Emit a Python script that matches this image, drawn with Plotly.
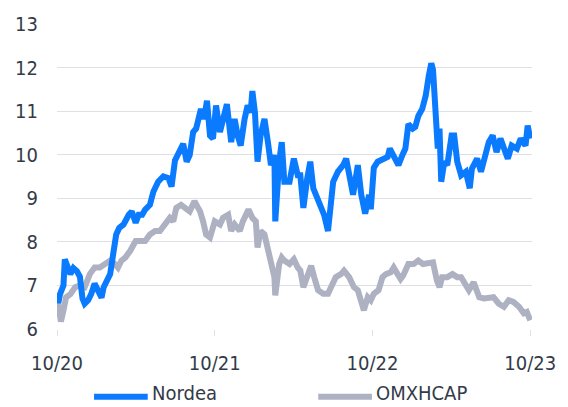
import plotly.graph_objects as go

nordea_dates = ["2020-10-01","2020-10-04","2020-10-08","2020-10-16","2020-10-19","2020-10-23","2020-11-01","2020-11-08","2020-11-16","2020-11-23","2020-11-29","2020-12-04","2020-12-12","2020-12-19","2020-12-27","2021-01-04","2021-01-12","2021-01-17","2021-01-23","2021-02-01","2021-02-08","2021-02-15","2021-02-22","2021-03-04","2021-03-16","2021-03-23","2021-04-01","2021-04-08","2021-04-16","2021-04-23","2021-05-04","2021-05-12","2021-05-23","2021-06-04","2021-06-16","2021-06-23","2021-07-01","2021-07-12","2021-07-20","2021-07-28","2021-08-04","2021-08-12","2021-08-19","2021-08-30","2021-09-06","2021-09-13","2021-09-20","2021-09-27","2021-10-04","2021-10-13","2021-10-20","2021-10-29","2021-11-08","2021-11-16","2021-11-23","2021-11-30","2021-12-09","2021-12-16","2021-12-23","2021-12-27","2022-01-02","2022-01-08","2022-01-15","2022-01-24","2022-02-01","2022-02-08","2022-02-16","2022-02-18","2022-02-27","2022-03-05","2022-03-11","2022-03-23","2022-04-02","2022-04-11","2022-04-17","2022-04-24","2022-05-03","2022-05-10","2022-05-17","2022-05-28","2022-06-05","2022-06-11","2022-06-20","2022-06-25","2022-07-02","2022-07-13","2022-07-25","2022-08-01","2022-08-08","2022-08-17","2022-08-28","2022-09-05","2022-09-14","2022-09-23","2022-09-27","2022-10-04","2022-10-13","2022-10-24","2022-11-05","2022-11-10","2022-11-19","2022-11-30","2022-12-09","2022-12-16","2022-12-23","2023-01-02","2023-01-08","2023-01-15","2023-01-24","2023-02-01","2023-02-08","2023-02-14","2023-02-18","2023-02-25","2023-03-01","2023-03-05","2023-03-09","2023-03-16","2023-03-23","2023-04-02","2023-04-08","2023-04-15","2023-04-24","2023-05-05","2023-05-14","2023-05-19","2023-05-31","2023-06-09","2023-06-18","2023-06-27","2023-07-06","2023-07-15","2023-07-24","2023-08-03","2023-08-10","2023-08-19","2023-08-31","2023-09-09","2023-09-20","2023-09-25","2023-10-01"]
nordea_values = [6.77,6.6,6.8,7.0,7.6,7.5,7.26,7.4,7.33,7.2,6.7,6.58,6.66,6.8,7.04,6.88,6.72,6.96,7.1,7.26,7.72,8.17,8.32,8.4,8.62,8.7,8.44,8.62,8.62,8.74,8.85,9.15,9.38,9.5,9.46,9.27,9.87,10.14,10.25,9.84,9.99,10.52,10.6,11.05,10.82,11.24,10.44,10.37,11.13,10.52,10.75,11.16,10.29,10.82,10.44,10.21,10.82,11.13,10.97,11.46,10.97,9.84,10.44,10.82,10.29,9.76,9.99,8.47,9.84,10.29,9.38,9.38,9.91,9.53,9.53,8.78,9.46,9.84,9.23,8.93,8.7,8.62,8.25,8.85,9.38,9.61,9.76,9.91,9.46,9.08,9.76,9.08,8.65,9.08,8.75,9.7,9.84,9.91,9.95,10.14,9.99,9.76,9.99,10.14,10.7,10.6,10.64,10.89,11.05,11.35,11.8,12.1,11.95,10.82,10.14,10.6,9.38,9.84,9.76,10.44,10.44,9.84,9.53,9.61,9.23,9.68,9.91,9.61,9.91,10.29,10.44,10.06,10.37,10.14,9.91,10.21,10.14,10.37,10.21,10.67,10.37]

omx_dates = ["2020-10-01","2020-10-05","2020-10-10","2020-10-16","2020-10-22","2020-11-01","2020-11-12","2020-11-23","2020-12-04","2020-12-16","2020-12-27","2021-01-08","2021-01-19","2021-02-01","2021-02-12","2021-02-19","2021-02-27","2021-03-08","2021-03-19","2021-04-01","2021-04-12","2021-04-23","2021-05-04","2021-05-16","2021-05-27","2021-06-08","2021-06-19","2021-06-27","2021-07-04","2021-07-15","2021-07-27","2021-08-04","2021-08-15","2021-08-28","2021-09-04","2021-09-11","2021-09-20","2021-10-01","2021-10-13","2021-10-20","2021-11-01","2021-11-08","2021-11-16","2021-11-28","2021-12-05","2021-12-11","2021-12-18","2021-12-27","2022-01-04","2022-01-08","2022-01-15","2022-01-24","2022-02-01","2022-02-08","2022-02-16","2022-02-18","2022-02-27","2022-03-05","2022-03-11","2022-03-23","2022-04-02","2022-04-11","2022-04-17","2022-04-24","2022-05-03","2022-05-12","2022-05-19","2022-05-28","2022-06-09","2022-06-20","2022-06-27","2022-07-08","2022-07-20","2022-07-27","2022-08-08","2022-08-19","2022-08-28","2022-09-05","2022-09-11","2022-09-20","2022-09-27","2022-10-04","2022-10-15","2022-10-24","2022-11-01","2022-11-12","2022-11-19","2022-11-28","2022-12-05","2022-12-11","2022-12-23","2023-01-04","2023-01-15","2023-01-26","2023-02-08","2023-02-18","2023-02-27","2023-03-05","2023-03-11","2023-03-23","2023-04-04","2023-04-15","2023-04-24","2023-05-05","2023-05-12","2023-05-23","2023-06-05","2023-06-16","2023-06-27","2023-07-08","2023-07-20","2023-08-01","2023-08-12","2023-08-23","2023-09-05","2023-09-16","2023-09-23","2023-10-01"]
omx_values = [6.75,6.43,6.17,6.43,6.73,6.8,6.96,7.0,6.96,7.26,7.41,7.41,7.49,7.57,7.49,7.41,7.57,7.64,7.79,8.02,8.02,8.02,8.17,8.25,8.25,8.4,8.55,8.47,8.78,8.85,8.78,8.7,8.93,8.7,8.47,8.17,8.1,8.47,8.4,8.55,8.62,8.25,8.4,8.25,8.47,8.62,8.74,8.55,8.47,7.87,8.25,8.17,7.87,7.57,7.19,6.77,7.49,7.64,7.57,7.49,7.6,7.41,7.34,6.96,7.26,7.45,7.19,6.89,6.81,6.81,6.96,7.19,7.26,7.34,7.19,6.96,6.89,6.66,6.43,6.73,6.66,6.81,6.89,7.19,7.26,7.3,7.41,7.26,7.15,7.23,7.49,7.49,7.57,7.49,7.53,7.53,7.11,6.96,7.19,7.19,7.26,7.19,7.19,6.96,6.89,7.07,6.73,6.7,6.73,6.73,6.58,6.51,6.66,6.62,6.51,6.36,6.39,6.2]

tick_vals = ["2020-10-01", "2021-10-01", "2022-10-01", "2023-10-01"]
tick_text = ["10/20", "10/21", "10/22", "10/23"]

series_names = ["Nordea", "OMXHCAP"]
series_colors = ["#0a7bff", "#adb1c2"]

font_family = "DejaVu Sans Condensed, DejaVu Sans"
text_color = "#333b48"
grid_color = "#dfe0e6"

fig = go.Figure()
fig.add_trace(go.Scatter(x=omx_dates, y=omx_values, mode="lines", name=series_names[1],
                         line=dict(color=series_colors[1], width=6)))
fig.add_trace(go.Scatter(x=nordea_dates, y=nordea_values, mode="lines", name=series_names[0],
                         line=dict(color=series_colors[0], width=6)))

# custom legend below the plot (line swatch + label)
legend_x = [0.078, 0.550]
legend_line_y = -0.222
for name, color, lx in zip(series_names, series_colors, legend_x):
    fig.add_shape(type="line", xref="paper", yref="paper",
                  x0=lx, x1=lx + 0.113, y0=legend_line_y, y1=legend_line_y,
                  line=dict(color=color, width=6))
    fig.add_annotation(xref="paper", yref="paper", x=lx + 0.12, y=-0.251,
                       xanchor="left", yanchor="bottom", text=name, showarrow=False,
                       borderpad=0,
                       font=dict(family=font_family, size=20, color=text_color))

fig.update_layout(
    width=568, height=407,
    margin=dict(l=57, r=29, t=21, b=78),
    plot_bgcolor="white", paper_bgcolor="white",
    font=dict(family=font_family, size=20, color=text_color),
    showlegend=False,
    hovermode=False,
    xaxis=dict(type="date", range=["2020-10-01", "2023-10-05"],
               tickvals=tick_vals, ticktext=tick_text,
               showgrid=False, ticks="outside", ticklen=6, tickcolor=grid_color,
               showline=False, zeroline=False, ticklabelstandoff=10),
    yaxis=dict(range=[6, 13], dtick=1, tick0=6, showgrid=True, gridcolor=grid_color,
               gridwidth=1, zeroline=False, showline=False, ticks="",
               ticklabelstandoff=18),
)

# remove the default page margin so the figure fills the window exactly
fig.write_html("out.html",
               config={"displayModeBar": False},
               post_script="document.body.style.margin='0';document.body.style.overflow='hidden';")
